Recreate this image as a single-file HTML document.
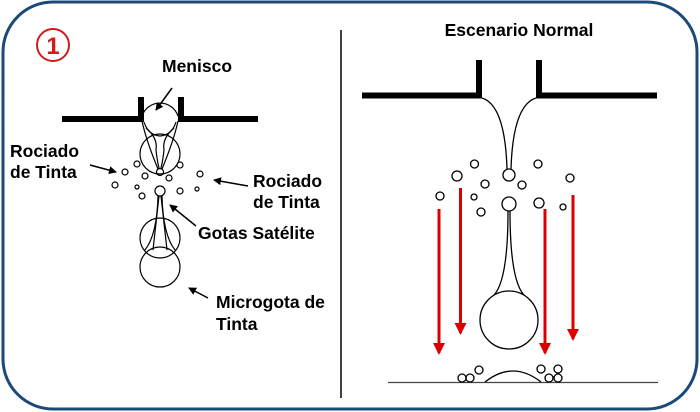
<!DOCTYPE html>
<html><head><meta charset="utf-8"><style>
html,body{margin:0;padding:0;background:#fff;}
svg{display:block;}
text{font-family:"Liberation Sans",Arial,sans-serif;font-weight:bold;font-size:17.5px;fill:#000;}
</style></head><body>
<svg width="700" height="412" viewBox="0 0 700 412" xmlns="http://www.w3.org/2000/svg">
<defs>
<marker id="ab" markerWidth="8" markerHeight="8" refX="7" refY="4" orient="auto" markerUnits="userSpaceOnUse"><path d="M0,0 L8,4 L0,8 Z" fill="#000"/></marker>
<marker id="ar" markerWidth="12" markerHeight="14" refX="10" refY="6" orient="auto" markerUnits="userSpaceOnUse"><path d="M0,0 L12,6 L0,12 Z" fill="#d00"/></marker>
</defs>
<rect x="3" y="2" width="694" height="407" rx="50" ry="50" fill="#fff" stroke="#1b4a78" stroke-width="3"/>
<circle cx="53" cy="45" r="16" fill="none" stroke="#d01c1c" stroke-width="2"/>
<text x="53" y="54" text-anchor="middle" style="fill:#d01c1c;font-size:24px">1</text>
<line x1="341" y1="30" x2="341" y2="398" stroke="#000" stroke-width="1.5"/>
<!-- left panel -->
<g stroke="#000" fill="none" stroke-width="1.2">
<path d="M62,119 H141 V97" stroke-width="6"/>
<path d="M258,119 H181 V97" stroke-width="6"/>
<path d="M142,116 A19,19 0 0 1 178,116"/>
<circle cx="160" cy="154" r="20"/>
<circle cx="160" cy="172" r="3.5"/>
<circle cx="160" cy="191" r="5"/>
<circle cx="160" cy="238" r="20"/>
<circle cx="160" cy="267" r="20"/>
<path d="M142,121 Q146,140 158,169"/>
<path d="M178,121 Q174,140 162,169"/>
<path d="M144,122 Q148,135 160,136 Q172,135 176,122"/>
<path d="M146,128 Q158,138 156,150 Q157,160 159,168"/>
<path d="M174,128 Q162,138 164,150 Q163,160 161,168"/>
<path d="M158,196 Q157,235 145,250"/>
<path d="M162,196 Q163,235 175,250"/>
<path d="M159,196 L153,250 M161,196 L167,250"/>
<circle cx="125" cy="172" r="3"/><circle cx="137" cy="164" r="3"/><circle cx="145" cy="176" r="3"/>
<circle cx="115" cy="185" r="3"/><circle cx="137" cy="187" r="2"/><circle cx="142" cy="196" r="3"/>
<circle cx="169" cy="178" r="3"/><circle cx="180" cy="165" r="3"/><circle cx="180" cy="191" r="3"/>
<circle cx="197" cy="189" r="2"/><circle cx="200" cy="174" r="3"/>
<g stroke-width="1.5">
<line x1="172" y1="88" x2="156" y2="110" marker-end="url(#ab)"/>
<line x1="90" y1="165" x2="116" y2="172" marker-end="url(#ab)"/>
<line x1="248" y1="186" x2="214" y2="180" marker-end="url(#ab)"/>
<line x1="196" y1="226" x2="170" y2="205" marker-end="url(#ab)"/>
<line x1="208" y1="298" x2="189" y2="288" marker-end="url(#ab)"/>
</g>
</g>
<text x="162" y="72">Menisco</text>
<text x="10" y="157">Rociado</text><text x="10" y="178">de Tinta</text>
<text x="253" y="187">Rociado</text><text x="253" y="208">de Tinta</text>
<text x="198" y="239">Gotas Satélite</text>
<text x="216" y="308">Microgota de</text><text x="216" y="330">Tinta</text>
<text x="519" y="36" text-anchor="middle">Escenario Normal</text>
<!-- right panel -->
<g stroke="#000" fill="none" stroke-width="1.3">
<path d="M362,95.5 H479 V60" stroke-width="6"/>
<path d="M657,95.5 H539 V60" stroke-width="6"/>
<path d="M482,98 Q505,105 507,169"/>
<path d="M536,98 Q513,105 511,169"/>
<circle cx="509" cy="175" r="6"/>
<circle cx="509" cy="204" r="7"/>
<path d="M508,211 Q508,280 494,295 M510,211 Q510,280 524,295"/>
<circle cx="509" cy="320" r="29"/>
<circle cx="457" cy="176" r="5"/><circle cx="474.5" cy="164" r="4"/><circle cx="485" cy="184" r="4"/>
<circle cx="522" cy="185" r="4"/><circle cx="538" cy="164" r="4"/><circle cx="570" cy="178" r="4"/>
<circle cx="440" cy="196" r="4"/><circle cx="474" cy="197" r="3"/><circle cx="481" cy="212" r="4"/>
<circle cx="539" cy="203" r="5"/><circle cx="563" cy="207" r="3"/>
<line x1="388" y1="382.5" x2="658" y2="382.5" stroke="#444"/>
<path d="M485,382 Q513,360 541,382"/>
<circle cx="462" cy="378" r="4"/><circle cx="470" cy="378" r="4"/><circle cx="479" cy="370" r="4"/>
<circle cx="541" cy="369" r="4"/><circle cx="558" cy="369" r="4"/><circle cx="549" cy="378" r="4"/><circle cx="558" cy="378" r="4"/>
</g>
<g stroke="#d00" stroke-width="3">
<line x1="439" y1="209" x2="439" y2="353" marker-end="url(#ar)"/>
<line x1="460.5" y1="188" x2="460.5" y2="333" marker-end="url(#ar)"/>
<line x1="545" y1="209" x2="545" y2="353" marker-end="url(#ar)"/>
<line x1="573" y1="195" x2="573" y2="339" marker-end="url(#ar)"/>
</g>
</svg>
</body></html>
